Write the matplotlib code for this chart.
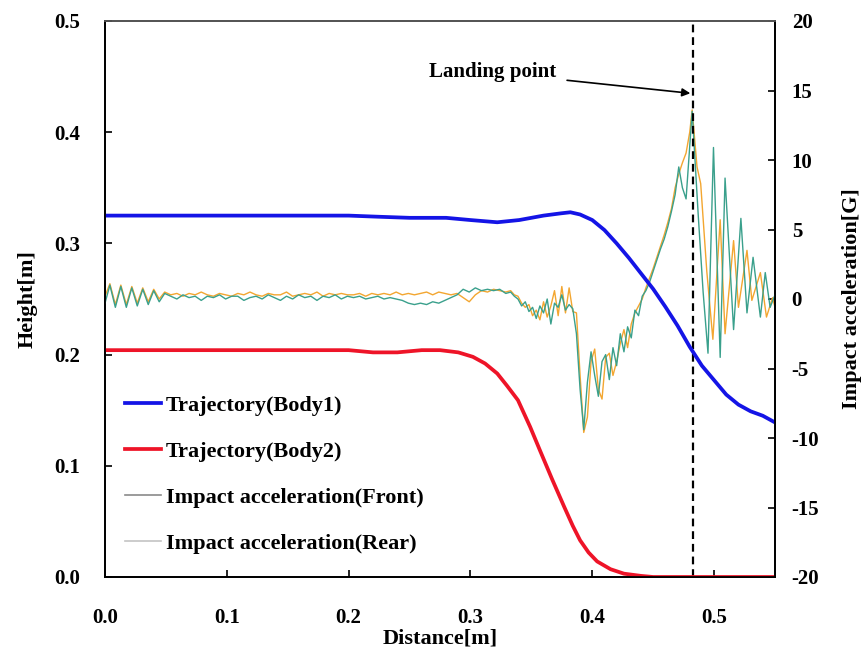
import matplotlib
matplotlib.use("Agg")
import matplotlib.pyplot as plt
from matplotlib.lines import Line2D

plt.rcParams['font.family'] = ['Liberation Serif', 'DejaVu Serif']
plt.rcParams['font.weight'] = 'bold'

# Trajectory (Body1), height [m]
body1_x = [0.0, 0.05, 0.10, 0.15, 0.20, 0.224, 0.25, 0.28, 0.30, 0.322, 0.34, 0.36, 0.374, 0.382,
           0.39, 0.40, 0.41, 0.42, 0.43, 0.44, 0.45, 0.46, 0.47, 0.48, 0.49, 0.50, 0.51, 0.52,
           0.53, 0.54, 0.55]
body1_h = [0.325, 0.325, 0.325, 0.325, 0.325, 0.324, 0.323, 0.323, 0.321, 0.319, 0.321, 0.325, 0.327, 0.328,
           0.326, 0.321, 0.312, 0.300, 0.287, 0.273, 0.259, 0.243, 0.226, 0.207, 0.190, 0.177, 0.164, 0.155,
           0.149, 0.145, 0.139]

# Trajectory (Body2), height [m]
body2_x = [0.0, 0.10, 0.20, 0.22, 0.24, 0.26, 0.275, 0.29, 0.302, 0.312, 0.322, 0.33, 0.339, 0.349,
           0.357, 0.367, 0.377, 0.384, 0.390, 0.397, 0.404, 0.415, 0.426, 0.44, 0.45, 0.55]
body2_h = [0.204, 0.204, 0.204, 0.202, 0.202, 0.204, 0.204, 0.202, 0.198, 0.192, 0.183, 0.172, 0.159, 0.135,
           0.114, 0.088, 0.063, 0.046, 0.033, 0.022, 0.014, 0.007, 0.003, 0.001, 0.0, 0.0]

# Impact acceleration [G] : shared distances up to the landing point
acc_x = [0.000, 0.004, 0.0085, 0.013, 0.0175, 0.022, 0.0265, 0.031, 0.0355, 0.040, 0.0445, 0.049,
         0.054, 0.059, 0.064, 0.069, 0.074, 0.079, 0.084, 0.089, 0.094, 0.099,
         0.104, 0.109, 0.114, 0.119, 0.124, 0.129, 0.134, 0.139, 0.144, 0.149,
         0.154, 0.159, 0.164, 0.169, 0.174, 0.179, 0.184, 0.189, 0.194, 0.199,
         0.204, 0.209, 0.214, 0.219, 0.224, 0.229, 0.234, 0.239, 0.244, 0.249,
         0.254, 0.259, 0.264, 0.269, 0.274, 0.279, 0.284, 0.289, 0.294, 0.299,
         0.304, 0.309, 0.314, 0.319, 0.324, 0.329,
         0.333, 0.336, 0.339, 0.342, 0.345, 0.348, 0.351, 0.354, 0.357, 0.360,
         0.363, 0.366, 0.369, 0.372, 0.375, 0.378, 0.381, 0.384, 0.387,
         0.390, 0.393, 0.396, 0.399, 0.402, 0.405, 0.408, 0.411, 0.414, 0.417,
         0.420, 0.423, 0.426, 0.429, 0.432, 0.435, 0.438, 0.441, 0.444, 0.447,
         0.450, 0.453, 0.456, 0.459, 0.462, 0.465, 0.468, 0.471, 0.474, 0.477,
         0.480, 0.482]
front_g = [-0.3, 1.0, -0.6, 0.9, -0.6, 0.8, -0.5, 0.7, -0.4, 0.6, -0.2, 0.4,
           0.2, 0.0, 0.3, 0.1, 0.2, -0.1, 0.2, 0.1, 0.3, 0.0,
           0.2, 0.2, -0.1, 0.1, 0.2, 0.0, 0.3, 0.1, -0.1, 0.2,
           0.0, 0.3, 0.1, 0.2, -0.1, 0.2, 0.1, 0.3, 0.0, 0.2,
           0.1, 0.2, 0.0, 0.1, 0.2, 0.0, 0.1, 0.0, -0.1, -0.3,
           -0.4, -0.3, -0.4, -0.2, -0.3, -0.1, 0.1, 0.3, 0.7, 0.5,
           0.8, 0.6, 0.7, 0.6, 0.7, 0.4,
           0.5, 0.2, 0.0, -0.5, -0.2, -0.9, -0.6, -1.4, -0.5, -1.0,
           0.0, -1.8, -0.3, -0.6, 0.3, -0.8, -0.4, -0.7, -2.5,
           -6.5, -9.4, -6.0, -3.8, -5.5, -7.0, -4.5, -4.0, -5.8, -3.5,
           -4.8, -2.5, -3.8, -2.0, -2.8, -0.8, -1.2, 0.2, 0.6, 1.2,
           2.0, 2.8, 3.6, 4.3, 5.2, 6.3, 7.5, 9.5, 8.0, 7.2,
           11.0, 13.5]
rear_g = [0.2, 1.1, -0.4, 1.0, -0.4, 0.9, -0.3, 0.8, -0.2, 0.7, 0.0, 0.5,
          0.3, 0.4, 0.2, 0.4, 0.3, 0.5, 0.3, 0.2, 0.4, 0.3,
          0.2, 0.4, 0.3, 0.5, 0.3, 0.2, 0.4, 0.3, 0.3, 0.5,
          0.2, 0.3, 0.4, 0.3, 0.5, 0.2, 0.4, 0.3, 0.4, 0.3,
          0.3, 0.4, 0.2, 0.4, 0.3, 0.4, 0.3, 0.5, 0.3, 0.4,
          0.3, 0.4, 0.5, 0.3, 0.5, 0.4, 0.3, 0.4, 0.1, -0.2,
          0.3, 0.6, 0.5, 0.7, 0.6, 0.5,
          0.6, 0.3, 0.2, -0.3, -0.6, -0.4, -1.2, -0.8, -1.5, -0.2,
          -1.3, -0.5, 0.6, -1.2, 0.9, -1.0, 0.8, -0.9, -1.0,
          -5.5, -9.6, -8.5, -4.5, -3.6, -6.5, -7.2, -4.2, -3.9, -5.5,
          -4.5, -3.2, -2.2, -3.5, -1.8, -1.0, -0.5, 0.0, 0.8, 1.5,
          2.2, 3.0, 3.8, 4.6, 5.5, 6.5, 8.0, 9.0, 9.8, 10.5,
          12.0, 13.6]

# after landing (the two sensors oscillate out of phase)
front_tail_x = [0.487, 0.491, 0.495, 0.4995, 0.505, 0.509, 0.516, 0.522, 0.527, 0.532, 0.538, 0.542, 0.546, 0.550]
front_tail_g = [6.0, 0.5, -3.9, 10.9, -4.2, 8.7, -2.2, 5.8, -1.0, 3.0, -1.3, 1.9, -0.6, 0.3]
rear_tail_x = [0.486, 0.489, 0.494, 0.499, 0.505, 0.509, 0.516, 0.520, 0.527, 0.531, 0.538, 0.543, 0.548, 0.550]
rear_tail_g = [9.5, 8.3, 2.0, -2.9, 5.7, -2.5, 4.2, -0.6, 3.5, -0.1, 1.9, -1.3, 0.1, -0.6]

landing_x = 0.4825
x_ticks = [0.0, 0.1, 0.2, 0.3, 0.4, 0.5]
h_ticks = [0.0, 0.1, 0.2, 0.3, 0.4, 0.5]
g_ticks = [-20, -15, -10, -5, 0, 5, 10, 15, 20]

fig = plt.figure(figsize=(8.65, 6.51), dpi=100)
ax = fig.add_axes([105 / 865, 1 - 577 / 651, 670 / 865, 556 / 651])
ax2 = ax.twinx()

c_front = '#3aa08c'
c_rear = '#f3a630'
ax2.plot(acc_x + rear_tail_x, rear_g + rear_tail_g, color=c_rear, lw=1.0, zorder=2)
ax2.plot(acc_x + front_tail_x, front_g + front_tail_g, color=c_front, lw=1.0, zorder=3)

ax2.axvline(landing_x, color='black', lw=1.6, dashes=(3.5, 2.2), zorder=5)
ax2.annotate('Landing point', xy=(0.4805, 14.8), xytext=(0.318, 16.3),
             ha='center', va='center', fontsize=15, fontweight='bold',
             arrowprops=dict(arrowstyle='-|>', color='black', lw=1.2, mutation_scale=12,
                             shrinkA=6, shrinkB=0))

ax.set_zorder(ax2.get_zorder() + 1)
ax.patch.set_visible(False)
l1, = ax.plot(body1_x, body1_h, color='#1414e6', lw=2.7, label='Trajectory(Body1)')
l2, = ax.plot(body2_x, body2_h, color='#ee1428', lw=2.7, label='Trajectory(Body2)')

ax.set_xlim(0, 0.55)
ax.set_ylim(0, 0.5)
ax2.set_ylim(-20, 20)
ax.set_xticks(x_ticks)
ax.set_xticklabels([f'{v:.1f}' for v in x_ticks])
ax.set_yticks(h_ticks)
ax.set_yticklabels([f'{v:.1f}' for v in h_ticks])
ax2.set_yticks(g_ticks)
ax2.set_yticklabels([str(v) for v in g_ticks])

ax.tick_params(axis='x', direction='in', length=5, width=1.2, pad=22, labelsize=15)
ax.tick_params(axis='y', direction='in', length=5, width=1.2, pad=18, labelsize=15)
ax2.tick_params(axis='y', direction='in', length=5, width=1.2, pad=12, labelsize=15)
for lab in ax2.get_yticklabels():
    lab.set_horizontalalignment('left')

for a in (ax, ax2):
    for s in a.spines.values():
        s.set_linewidth(1.3)
ax.spines['top'].set_color('#555555')
ax2.spines['top'].set_color('#555555')

ax.set_xlabel('Distance[m]', fontsize=16, fontweight='bold', labelpad=1)
ax.set_ylabel('Height[m]', fontsize=16, fontweight='bold', labelpad=12)
ax2.set_ylabel('Impact acceleration[G]', fontsize=16, fontweight='bold', labelpad=16)

handles = [l1, l2,
           Line2D([], [], color='#8a8a8a', lw=1.2),
           Line2D([], [], color='#c4c4c4', lw=1.2)]
labels = ['Trajectory(Body1)', 'Trajectory(Body2)',
          'Impact acceleration(Front)', 'Impact acceleration(Rear)']
ax.legend(handles, labels, loc='lower left', bbox_to_anchor=(0.0, 0.005), frameon=False,
          prop=dict(size=16, weight='bold'), handlelength=1.6, handletextpad=0.25,
          labelspacing=1.15)

fig.savefig('out.png', dpi=100)
